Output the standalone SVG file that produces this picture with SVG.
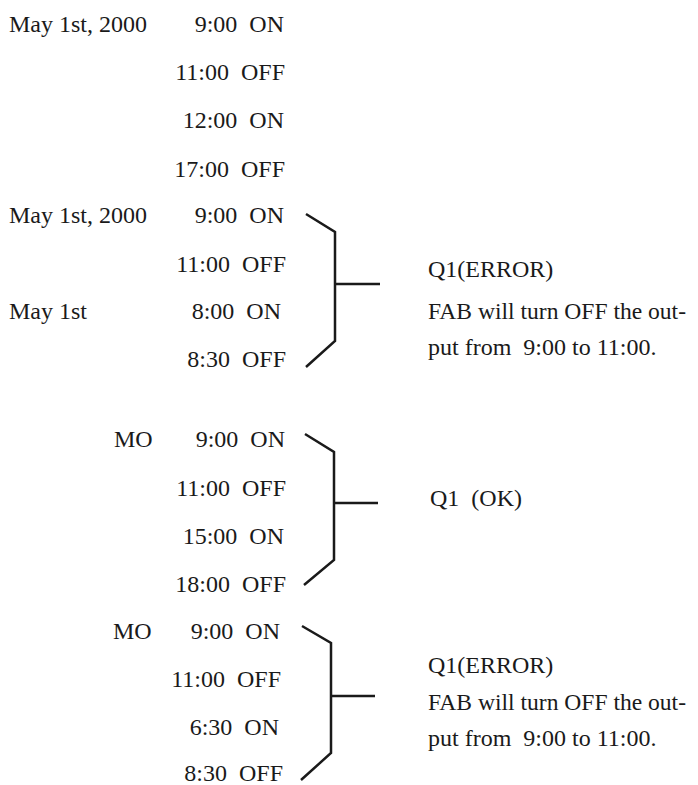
<svg xmlns="http://www.w3.org/2000/svg" width="698" height="785" viewBox="0 0 698 785">
<style>
text{font-family:'Liberation Serif','Times New Roman','DejaVu Serif',serif;font-size:24px;fill:#1a1a1a}
.r{text-anchor:end}
.br{fill:none;stroke:#1a1a1a;stroke-width:2.5;stroke-linejoin:miter}
</style>
<rect width="698" height="785" fill="#ffffff"/>
<g font-family="Liberation Serif, Times New Roman, serif" font-size="24">
<g id="block1">
<text x="9" y="32">May 1st, 2000</text>
<text class="r" x="284" y="32" xml:space="preserve">9:00  ON</text>
<text class="r" x="285" y="80" xml:space="preserve">11:00  OFF</text>
<text class="r" x="284" y="128" xml:space="preserve">12:00  ON</text>
<text class="r" x="285" y="177" xml:space="preserve">17:00  OFF</text>
</g>
<g id="block2">
<text x="9" y="223">May 1st, 2000</text>
<text class="r" x="284" y="223" xml:space="preserve">9:00  ON</text>
<text class="r" x="286" y="272" xml:space="preserve">11:00  OFF</text>
<text x="9" y="319">May 1st</text>
<text class="r" x="281" y="319" xml:space="preserve">8:00  ON</text>
<text class="r" x="286" y="367" xml:space="preserve">8:30  OFF</text>
</g>
<g id="result2">
<text x="428" y="277">Q1(ERROR)</text>
<text x="428" y="319" textLength="258" lengthAdjust="spacingAndGlyphs">FAB will turn OFF the out-</text>
<text x="428" y="355" xml:space="preserve">put from  9:00 to 11:00.</text>
</g>
<g id="block3">
<text x="114" y="447">MO</text>
<text class="r" x="285" y="447" xml:space="preserve">9:00  ON</text>
<text class="r" x="286" y="496" xml:space="preserve">11:00  OFF</text>
<text class="r" x="284" y="544" xml:space="preserve">15:00  ON</text>
<text class="r" x="286" y="592" xml:space="preserve">18:00  OFF</text>
</g>
<g id="result3">
<text x="430" y="506" xml:space="preserve">Q1  (OK)</text>
</g>
<g id="block4">
<text x="113" y="639">MO</text>
<text class="r" x="280" y="639" xml:space="preserve">9:00  ON</text>
<text class="r" x="281" y="687" xml:space="preserve">11:00  OFF</text>
<text class="r" x="279" y="735" xml:space="preserve">6:30  ON</text>
<text class="r" x="283" y="781" xml:space="preserve">8:30  OFF</text>
</g>
<g id="result4">
<text x="428" y="673">Q1(ERROR)</text>
<text x="428" y="710" textLength="258" lengthAdjust="spacingAndGlyphs">FAB will turn OFF the out-</text>
<text x="428" y="746" xml:space="preserve">put from  9:00 to 11:00.</text>
</g>
</g>
<g id="connectors">
<path class="br" d="M306 214 L335 232 L335 341 L306 367 M335 284 L380 284"/>
<path class="br" d="M305 434 L334 452 L334 560 L304 585 M334 503 L378 503"/>
<path class="br" d="M302 626 L331 643 L331 753 L301 780 M331 696 L375 696"/>
</g>
</svg>
